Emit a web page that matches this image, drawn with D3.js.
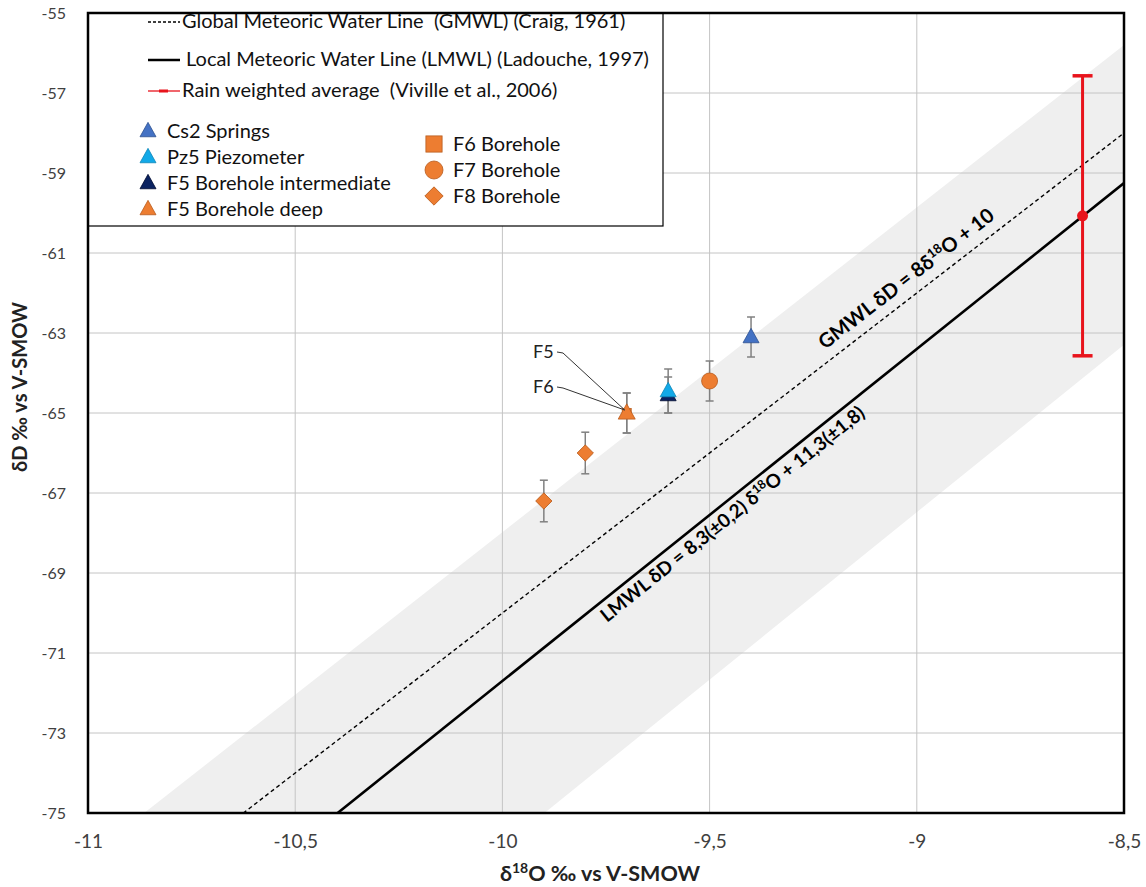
<!DOCTYPE html>
<html>
<head>
<meta charset="utf-8">
<script src="https://cdn.jsdelivr.net/npm/d3@7"></script>
<style>
  body { margin: 0; background: #fff; }
  svg { display: block; }
  .grid line { stroke: #c4c4c4; stroke-width: 1; }
</style>
</head>
<body>
<div id="canvas"></div>
<script>
// ticks
var xTicks = [-11, -10.5, -10, -9.5, -9, -8.5];
var yTicks = [-55, -57, -59, -61, -63, -65, -67, -69, -71, -73, -75];

// sample series (d18O, dD, error on dD)
var seriesNames = ["Cs2 Springs", "Pz5 Piezometer", "F5 Borehole intermediate", "F5 Borehole deep", "F6 Borehole", "F7 Borehole", "F8 Borehole"];
var seriesO18 = [[-9.4], [-9.6], [-9.6], [-9.7], [-9.7], [-9.5], [-9.8, -9.9]];
var seriesD = [[-63.1], [-64.45], [-64.55], [-65.0], [-65.0], [-64.2], [-66.0, -67.2]];
var seriesErr = [[0.5], [0.55], [0.45], [0.5], [0.5], [0.5], [0.52, 0.52]];

// rain weighted average
var rainO18 = [-8.6];
var rainD = [-60.07];
var rainErr = [3.5];

// meteoric water lines: [slope, intercept]
var gmwl = [8, 10];
var lmwl = [8.3, 11.3];
// envelope of the LMWL (upper and lower edge lines)
var bandUpper = [8.12, 13.22];
var bandLower = [8.37, 7.85];

var colors = ["#4472c4", "#12a9e8", "#0b2361", "#ed7d31", "#ed7d31", "#ed7d31", "#ed7d31"];
var strokes = ["#2f528f", "#0e86b8", "#000a30", "#b85c1e", "#b85c1e", "#b85c1e", "#b85c1e"];
var shapes = ["tri", "tri", "tri", "tri", "square", "circle", "diamond"];
var plotSizes = [16, 16, 16, 17, 10, 16, 16];

var font = "Lato, 'Open Sans', sans-serif";
var width = 1146, height = 887;
var plot = { left: 88, right: 1124, top: 13, bottom: 813 };

var svg = d3.select("#canvas").append("svg")
  .attr("width", width)
  .attr("height", height);

var x = d3.scaleLinear().domain([-11, -8.5]).range([plot.left, plot.right]);
var y = d3.scaleLinear().domain([-75, -55]).range([plot.bottom, plot.top]);

var comma = function(d) { return String(d).replace(".", ","); };

svg.append("clipPath").attr("id", "clip")
  .append("rect")
  .attr("x", plot.left).attr("y", plot.top)
  .attr("width", plot.right - plot.left).attr("height", plot.bottom - plot.top);

var inner = svg.append("g").attr("clip-path", "url(#clip)");

// grey band around the LMWL
var bx = x.domain();
function linePts(l) { return bx.map(function(v) { return [v, l[0] * v + l[1]]; }); }
var bandPts = linePts(bandUpper).concat(linePts(bandLower).reverse());
inner.append("path")
  .attr("d", "M" + bandPts.map(function(p) { return x(p[0]) + "," + y(p[1]); }).join("L") + "Z")
  .attr("fill", "#efefef");

// grid
var grid = inner.append("g").attr("class", "grid");
grid.selectAll(".gx").data(xTicks.slice(1, -1)).enter().append("line")
  .attr("x1", function(d) { return x(d); }).attr("x2", function(d) { return x(d); })
  .attr("y1", plot.top).attr("y2", plot.bottom);
grid.selectAll(".gy").data(yTicks.slice(1, -1)).enter().append("line")
  .attr("y1", function(d) { return y(d); }).attr("y2", function(d) { return y(d); })
  .attr("x1", plot.left).attr("x2", plot.right);

// water lines
var line = d3.line().x(function(d) { return x(d[0]); }).y(function(d) { return y(d[1]); });

inner.append("path").attr("d", line(linePts(gmwl)))
  .attr("fill", "none").attr("stroke", "#000").attr("stroke-width", 1.4)
  .attr("stroke-dasharray", "4,3");
inner.append("path").attr("d", line(linePts(lmwl)))
  .attr("fill", "none").attr("stroke", "#000").attr("stroke-width", 2.6);

// line labels
function lineLabel(l, xv, dy, size, parts) {
  var px = x(xv), py = y(l[0] * xv + l[1]);
  var ang = Math.atan2(y(l[0] * (xv + 1) + l[1]) - py, x(xv + 1) - px) * 180 / Math.PI;
  var t = svg.append("text")
    .attr("transform", "translate(" + px + "," + py + ") rotate(" + ang + ")")
    .attr("y", dy)
    .attr("font-family", font)
    .attr("font-weight", "bold")
    .attr("font-size", size)
    .attr("fill", "#000");
  parts.forEach(function(p) {
    var s = t.append("tspan").text(p[0]);
    if (p[1]) s.attr("font-size", size * 0.65).attr("dy", -7);
    else if (s.node().previousSibling) s.attr("dy", 7);
  });
}
lineLabel(gmwl, -9.205, -11, 20, [["GMWL δD = 8δ"], ["18", true], ["O + 10"]]);
lineLabel(lmwl, -9.778, 20, 19, [["LMWL δD = 8,3(±0,2) δ"], ["18", true], ["O + 11,3(±1,8)"]]);

// symbol helper
function drawShape(g, shape, size) {
  if (shape === "tri") {
    var h = size * 0.9, w = size;
    return g.append("path").attr("d", "M0," + (-h * 0.6) + "L" + (w / 2) + "," + (h * 0.4) + "L" + (-w / 2) + "," + (h * 0.4) + "Z");
  }
  if (shape === "circle") return g.append("circle").attr("r", size / 2);
  if (shape === "square") return g.append("rect").attr("x", -size * 0.45).attr("y", -size * 0.45).attr("width", size * 0.9).attr("height", size * 0.9);
  return g.append("rect").attr("x", -size * 0.36).attr("y", -size * 0.36).attr("width", size * 0.72).attr("height", size * 0.72).attr("transform", "rotate(45)");
}

// error bars
var errG = svg.append("g");
seriesNames.forEach(function(name, i) {
  seriesO18[i].forEach(function(v, j) {
    var cx = x(v), d = seriesD[i][j], e = seriesErr[i][j];
    errG.append("line").attr("x1", cx).attr("x2", cx)
      .attr("y1", y(d + e)).attr("y2", y(d - e))
      .attr("stroke", "#808080").attr("stroke-width", 1.5);
    [d + e, d - e].forEach(function(c) {
      errG.append("line").attr("x1", cx - 4).attr("x2", cx + 4)
        .attr("y1", y(c)).attr("y2", y(c))
        .attr("stroke", "#808080").attr("stroke-width", 1.5);
    });
  });
});

// points (draw back to front)
var order = [6, 5, 4, 3, 2, 1, 0];
order.forEach(function(i) {
  seriesO18[i].forEach(function(v, j) {
    var g = svg.append("g").attr("transform", "translate(" + x(v) + "," + y(seriesD[i][j]) + ")");
    drawShape(g, shapes[i], plotSizes[i]).attr("fill", colors[i]).attr("stroke", strokes[i]).attr("stroke-width", 0.8);
  });
});

// rain weighted average
var rain = svg.append("g");
rainO18.forEach(function(v, i) {
  var cx = x(v);
  rain.append("line").attr("x1", cx).attr("x2", cx)
    .attr("y1", y(rainD[i] + rainErr[i])).attr("y2", y(rainD[i] - rainErr[i]))
    .attr("stroke", "#e8141c").attr("stroke-width", 3);
  [rainD[i] + rainErr[i], rainD[i] - rainErr[i]].forEach(function(c) {
    rain.append("line").attr("x1", cx - 10).attr("x2", cx + 10)
      .attr("y1", y(c)).attr("y2", y(c))
      .attr("stroke", "#e8141c").attr("stroke-width", 3.5);
  });
  rain.append("circle").attr("cx", cx).attr("cy", y(rainD[i])).attr("r", 5.5).attr("fill", "#e8141c");
});

// annotations F5 / F6
var annoTarget = [x(-9.7), y(-65.0)];
[["F5", 352], ["F6", 387]].forEach(function(a) {
  svg.append("text").attr("x", 533).attr("y", a[1]).attr("dy", "0.35em")
    .attr("font-family", font).attr("font-size", 18).attr("fill", "#222")
    .text(a[0]);
  svg.append("path")
    .attr("d", "M" + 557 + "," + a[1] + "L" + 563 + "," + (a[1] + 1) + "L" + (annoTarget[0] - 2) + "," + (annoTarget[1] - 3))
    .attr("fill", "none").attr("stroke", "#333").attr("stroke-width", 1);
});

// legend
var leg = svg.append("g");
leg.append("rect").attr("x", plot.left).attr("y", plot.top)
  .attr("width", 663 - plot.left).attr("height", 226 - plot.top)
  .attr("fill", "#fff").attr("stroke", "#000").attr("stroke-width", 1.2);

var legText = function(tx, ty, s) {
  return leg.append("text").attr("x", tx).attr("y", ty).attr("dy", "0.35em")
    .attr("font-family", font).attr("font-size", 20).attr("fill", "#111")
    .attr("xml:space", "preserve").text(s);
};
leg.append("line").attr("x1", 148).attr("x2", 180).attr("y1", 22).attr("y2", 22)
  .attr("stroke", "#000").attr("stroke-width", 1.3).attr("stroke-dasharray", "3,2");
legText(182, 21, "Global Meteoric Water Line  (GMWL) (Craig, 1961)");
leg.append("line").attr("x1", 148).attr("x2", 180).attr("y1", 60).attr("y2", 60)
  .attr("stroke", "#000").attr("stroke-width", 2.5);
legText(186, 59, "Local Meteoric Water Line (LMWL) (Ladouche, 1997)");
leg.append("line").attr("x1", 148).attr("x2", 180).attr("y1", 91).attr("y2", 91)
  .attr("stroke", "#e8141c").attr("stroke-width", 1.3);
leg.append("rect").attr("x", 159).attr("y", 89.5).attr("width", 9).attr("height", 3).attr("fill", "#e8141c");
legText(182, 90, "Rain weighted average  (Viville et al., 2006)");

var legPos = [[148, 131], [148, 157], [148, 183], [148, 209], [434, 144], [434, 170], [434, 196]];
seriesNames.forEach(function(name, i) {
  var g = leg.append("g").attr("transform", "translate(" + legPos[i][0] + "," + legPos[i][1] + ")");
  drawShape(g, shapes[i], i < 4 ? 16 : 18).attr("fill", colors[i]).attr("stroke", strokes[i]).attr("stroke-width", 0.8);
  legText(legPos[i][0] + 19, legPos[i][1], name);
});

// frame
svg.append("rect").attr("x", plot.left).attr("y", plot.top)
  .attr("width", plot.right - plot.left).attr("height", plot.bottom - plot.top)
  .attr("fill", "none").attr("stroke", "#000").attr("stroke-width", 2.5);

// axes
var yAxis = svg.append("g").attr("transform", "translate(" + plot.left + ",0)")
  .call(d3.axisLeft(y).tickValues(yTicks).tickSize(0).tickPadding(22).tickFormat(comma));
yAxis.select(".domain").remove();
yAxis.selectAll("text").attr("font-family", font).attr("font-size", 16).attr("fill", "#404040");

var xAxis = svg.append("g").attr("transform", "translate(0," + plot.bottom + ")")
  .call(d3.axisBottom(x).tickValues(xTicks).tickSize(0).tickPadding(22).tickFormat(comma));
xAxis.select(".domain").remove();
xAxis.selectAll("text").attr("font-family", font).attr("font-size", 19).attr("fill", "#404040");

// axis titles
var xt = svg.append("text").attr("x", 600).attr("y", 881)
  .attr("text-anchor", "middle").attr("font-family", font)
  .attr("font-weight", "bold").attr("font-size", 21.5).attr("fill", "#222");
xt.append("tspan").text("δ");
xt.append("tspan").text("18").attr("font-size", 14).attr("dy", -8);
xt.append("tspan").text("O ‰ vs V-SMOW").attr("dy", 8);

svg.append("text").attr("transform", "translate(27," + 387 + ") rotate(-90)")
  .attr("text-anchor", "middle").attr("font-family", font)
  .attr("font-weight", "bold").attr("font-size", 20).attr("fill", "#222")
  .text("δD ‰ vs V-SMOW");
</script>
</body>
</html>
